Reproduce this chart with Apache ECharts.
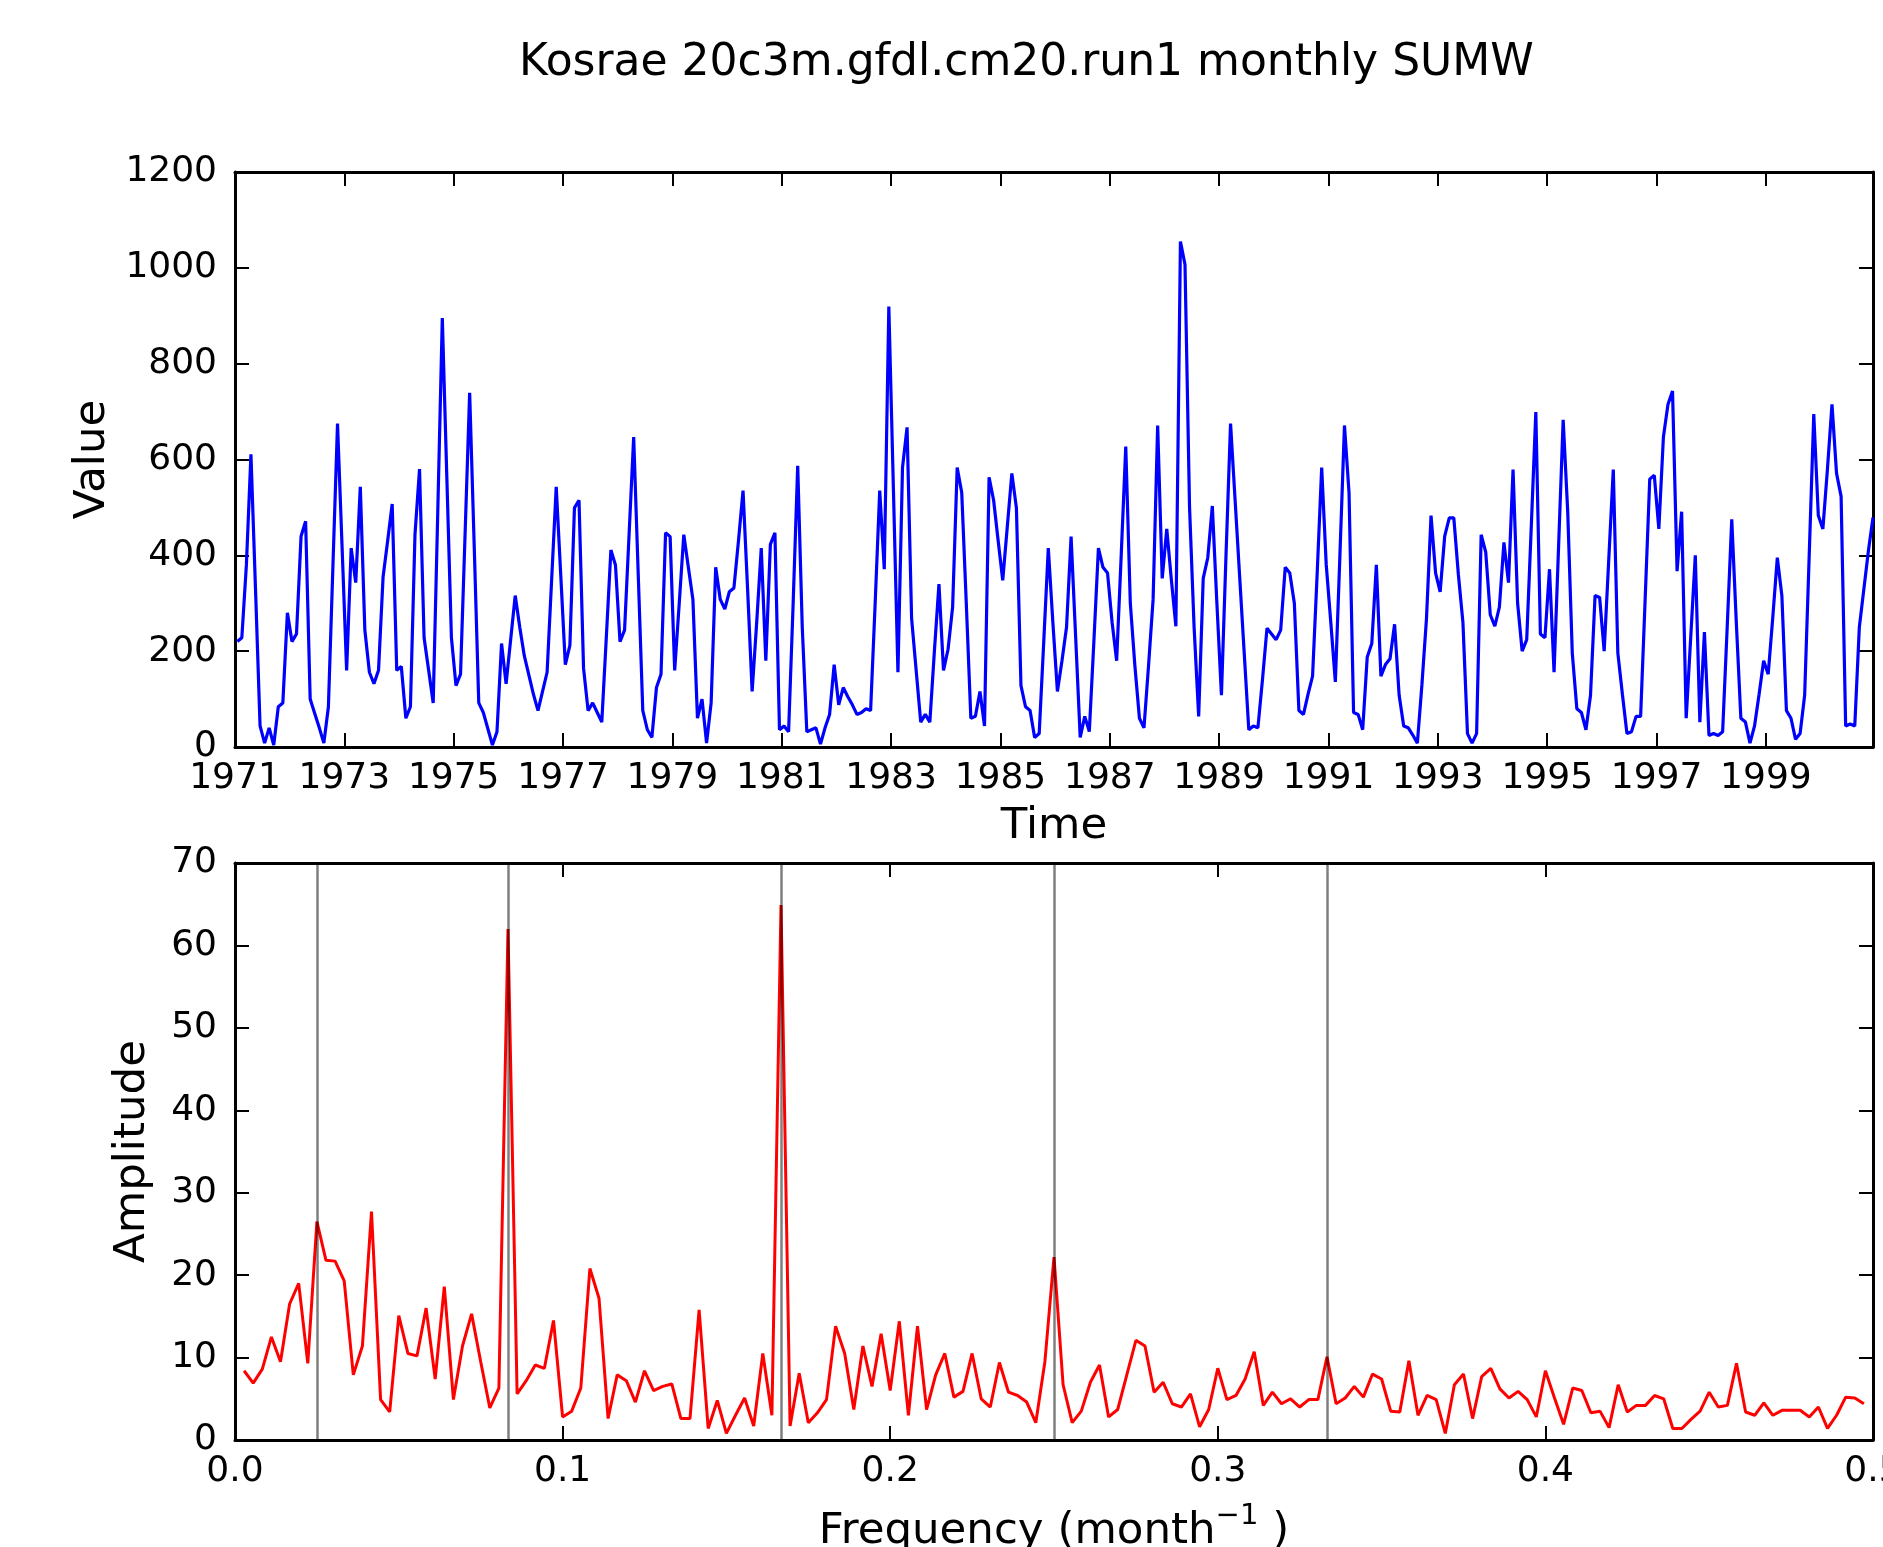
<!DOCTYPE html>
<html>
<head>
<meta charset="utf-8">
<script src="https://cdn.jsdelivr.net/npm/echarts@6/dist/echarts.min.js"></script>
<style>
html, body { margin: 0; padding: 0; background: #ffffff; }
#chart { width: 1883px; height: 1547px; }
</style>
</head>
<body>
<div id="chart"></div>
<script>
// ---------------- DATA ----------------
const titleText = 'Kosrae 20c3m.gfdl.cm20.run1 monthly SUMW';
const startYear = 1971;

// monthly SUMW, Jan 1971 .. Dec 2000 (one row per year, 12 values)
const sumw = [
  220, 228, 380, 611, 330, 44, 8, 40, 4, 84, 92, 280,
  220, 236, 440, 471, 100, 70, 40, 8, 84, 380, 675, 418,
  160, 415, 343, 543, 244, 156, 132, 160, 355, 430, 507, 160,
  168, 60, 84, 443, 580, 228, 160, 92, 490, 895, 560, 228,
  128, 152, 445, 739, 420, 92, 72, 38, 4, 32, 216, 132,
  224, 316, 250, 190, 150, 110, 76, 116, 156, 350, 543, 358,
  172, 212, 499, 515, 164, 76, 92, 72, 52, 230, 411, 380,
  220, 244, 445, 647, 360, 76, 36, 20, 124, 152, 447, 439,
  160, 300, 443, 375, 308, 60, 100, 8, 92, 375, 308, 288,
  324, 332, 430, 535, 330, 116, 260, 415, 180, 423, 447, 36,
  44, 32, 300, 587, 250, 32, 36, 40, 6, 40, 68, 172,
  88, 124, 105, 88, 68, 72, 80, 76, 300, 535, 371, 919,
  540, 156, 583, 667, 268, 160, 52, 68, 52, 200, 340, 160,
  204, 292, 583, 531, 300, 60, 64, 116, 44, 563, 515, 430,
  348, 460, 571, 499, 128, 84, 76, 20, 28, 220, 415, 260,
  116, 180, 250, 439, 230, 20, 64, 32, 220, 415, 375, 363,
  260, 180, 400, 627, 300, 170, 60, 40, 170, 308, 671, 352,
  455, 350, 252, 1055, 1007, 500, 250, 64, 352, 395, 503, 300,
  108, 400, 675, 515, 355, 196, 36, 44, 40, 140, 248, 236,
  224, 244, 375, 363, 300, 76, 68, 110, 148, 360, 583, 380,
  260, 136, 400, 671, 531, 72, 68, 36, 188, 216, 380, 148,
  172, 184, 256, 108, 44, 40, 25, 8, 130, 268, 483, 363,
  324, 440, 478, 478, 360, 260, 28, 8, 28, 443, 407, 276,
  252, 292, 427, 343, 579, 300, 200, 224, 460, 699, 236, 228,
  371, 156, 420, 683, 491, 196, 80, 72, 36, 108, 316, 312,
  200, 390, 579, 196, 110, 28, 32, 64, 64, 310, 559, 567,
  455, 647, 715, 743, 367, 491, 60, 230, 400, 52, 240, 24,
  28, 24, 32, 250, 475, 260, 60, 52, 8, 44, 110, 180,
  152, 270, 395, 316, 76, 60, 16, 28, 108, 400, 695, 483,
  455, 580, 715, 571, 523, 44, 48, 44, 250, 330, 410, 479
];

// FFT amplitude for harmonics k = 1 .. 179 (frequency k/360 month^-1)
const amplitude = [
  8.4, 6.9, 8.6, 12.5, 9.5, 16.5, 19.0, 9.3, 26.5, 21.8,
  21.7, 19.3, 7.9, 11.4, 27.7, 4.9, 3.4, 15.1, 10.5, 10.2,
  16.0, 7.4, 18.6, 4.9, 11.4, 15.3, 9.5, 3.9, 6.3, 62.0,
  5.6, 7.2, 9.1, 8.7, 14.5, 2.8, 3.5, 6.3, 20.8, 17.2,
  2.6, 7.9, 7.2, 4.6, 8.4, 6.0, 6.5, 6.8, 2.6, 2.6,
  15.8, 1.4, 4.8, 0.8, 3.0, 5.1, 1.7, 10.5, 3.0, 64.9,
  1.7, 8.1, 2.1, 3.3, 4.9, 13.8, 10.5, 3.7, 11.4, 6.5,
  12.9, 6.0, 14.4, 3.0, 13.8, 3.7, 7.9, 10.5, 5.2, 5.9,
  10.5, 5.0, 4.0, 9.4, 5.8, 5.4, 4.6, 2.1, 9.5, 22.2,
  6.7, 2.1, 3.5, 7.0, 9.1, 2.8, 3.7, 7.9, 12.1, 11.4,
  5.8, 7.0, 4.4, 4.0, 5.6, 1.6, 3.7, 8.7, 4.9, 5.4,
  7.4, 10.7, 4.2, 5.8, 4.4, 5.0, 4.0, 4.9, 4.9, 10.1,
  4.4, 5.1, 6.5, 5.2, 8.0, 7.4, 3.5, 3.4, 9.6, 3.0,
  5.4, 4.9, 0.8, 6.7, 8.0, 2.6, 7.7, 8.7, 6.2, 5.1,
  5.9, 4.9, 2.8, 8.4, 5.1, 1.9, 6.3, 6.0, 3.3, 3.5,
  1.5, 6.7, 3.4, 4.2, 4.2, 5.4, 5.0, 1.4, 1.4, 2.5,
  3.5, 5.8, 4.0, 4.2, 9.3, 3.4, 3.0, 4.5, 3.0, 3.6,
  3.6, 3.6, 2.8, 4.0, 1.4, 3.0, 5.2, 5.1, 4.4
];

// reference frequencies marked with vertical lines (month^-1)
const markFreqs = [1 / 40, 1 / 12, 1 / 6, 1 / 4, 1 / 3];

// tick labels
const yearLabels = ['1971', '1973', '1975', '1977', '1979', '1981', '1983', '1985',
                    '1987', '1989', '1991', '1993', '1995', '1997', '1999'];
const freqLabels = ['0.0', '0.1', '0.2', '0.3', '0.4', '0.5'];
const valueTicks = [0, 200, 400, 600, 800, 1000, 1200];
const ampTicks = [0, 10, 20, 30, 40, 50, 60, 70];

// ---------------- CHART ----------------
const FONT = 'DejaVu Sans';
const chart = echarts.init(document.getElementById('chart'), null, { renderer: 'canvas' });

const frame = { show: true, onZero: false, lineStyle: { color: '#000', width: 3 } };
const inTick = { show: true, inside: true, length: 14, lineStyle: { color: '#000', width: 2 } };
const tickLabel = { color: '#000', fontSize: 36, fontFamily: FONT };
const nameStyle = { color: '#000', fontSize: 43.5, fontFamily: FONT };

const monthsMax = sumw.length - 0.5;

function xTime(pos, extra) {
  return Object.assign({
    type: 'value', gridIndex: 0, position: pos, min: 0, max: monthsMax, interval: 24,
    axisLine: frame, axisTick: inTick, splitLine: { show: false }
  }, extra);
}
function xFreq(pos, extra) {
  return Object.assign({
    type: 'value', gridIndex: 1, position: pos, min: 0, max: 0.5, interval: 0.1,
    axisLine: frame, axisTick: inTick, splitLine: { show: false }
  }, extra);
}
function yVal(pos, extra) {
  return Object.assign({
    type: 'value', gridIndex: 0, position: pos,
    min: valueTicks[0], max: valueTicks[valueTicks.length - 1], interval: valueTicks[1] - valueTicks[0],
    axisLine: frame, axisTick: inTick, splitLine: { show: false }
  }, extra);
}
function yAmp(pos, extra) {
  return Object.assign({
    type: 'value', gridIndex: 1, position: pos,
    min: ampTicks[0], max: ampTicks[ampTicks.length - 1], interval: ampTicks[1] - ampTicks[0],
    axisLine: frame, axisTick: inTick, splitLine: { show: false }
  }, extra);
}

const option = {
  animation: false,
  backgroundColor: '#ffffff',
  title: {
    text: titleText, left: 519, top: 42, padding: 0,
    textStyle: { color: '#000', fontSize: 44, fontWeight: 'normal', fontFamily: FONT }
  },
  grid: [
    { left: 235, top: 172, width: 1638, height: 575, containLabel: false, outerBoundsMode: 'none' },
    { left: 235, top: 863, width: 1638, height: 577, containLabel: false, outerBoundsMode: 'none' }
  ],
  xAxis: [
    xTime('bottom', {
      axisLabel: Object.assign({ margin: 14, showMaxLabel: true, showMinLabel: true, hideOverlap: false,
        formatter: v => (Math.abs(v % 24) < 1e-6 ? (yearLabels[Math.round(v / 24)] || '') : '') }, tickLabel),
      name: 'Time', nameLocation: 'middle', nameGap: 58, nameTextStyle: nameStyle
    }),
    xTime('top', { axisLabel: { show: false } }),
    xFreq('bottom', {
      axisLabel: Object.assign({ margin: 14, showMaxLabel: true, showMinLabel: true, hideOverlap: false,
        formatter: v => freqLabels[Math.round(v * 10)] || '' }, tickLabel),
      name: '{a|Frequency (month}{s|\u22121}{a| )}', nameLocation: 'middle', nameGap: 62,
      nameTextStyle: Object.assign({}, nameStyle, {
        rich: {
          a: { fontSize: 43.5, fontFamily: FONT, color: '#000', lineHeight: 52, verticalAlign: 'bottom' },
          s: { fontSize: 29, fontFamily: FONT, color: '#000', lineHeight: 30, verticalAlign: 'top' }
        }
      })
    }),
    xFreq('top', { axisLabel: { show: false } })
  ],
  yAxis: [
    yVal('left', {
      axisLabel: Object.assign({ margin: 18, formatter: v => String(v) }, tickLabel),
      name: 'Value', nameLocation: 'middle', nameGap: 96, nameTextStyle: nameStyle
    }),
    yVal('right', { axisLabel: { show: false } }),
    yAmp('left', {
      axisLabel: Object.assign({ margin: 18, formatter: v => String(v) }, tickLabel),
      name: 'Amplitude', nameLocation: 'middle', nameGap: 80, nameTextStyle: nameStyle
    }),
    yAmp('right', { axisLabel: { show: false } })
  ],
  series: [
    {
      type: 'line', name: 'SUMW', xAxisIndex: 0, yAxisIndex: 0,
      data: sumw.map((v, i) => [i + 0.5, v]),
      showSymbol: false, symbol: 'none',
      lineStyle: { color: '#0000ff', width: 3.2 }, itemStyle: { color: '#0000ff' },
      clip: true, silent: true
    },
    {
      type: 'line', name: 'Amplitude', xAxisIndex: 2, yAxisIndex: 2,
      data: amplitude.map((v, j) => [(j + 1) / (2 * (amplitude.length + 1)), v]),
      showSymbol: false, symbol: 'none',
      lineStyle: { color: '#ff0000', width: 3.0 }, itemStyle: { color: '#ff0000' },
      clip: true, silent: true,
      markLine: {
        silent: true, precision: 8, symbol: ['none', 'none'], label: { show: false },
        lineStyle: { color: 'rgba(0,0,0,0.5)', width: 2.5, type: 'solid' },
        data: markFreqs.map(f => ({ xAxis: f }))
      }
    }
  ]
};
chart.setOption(option);
</script>
</body>
</html>
